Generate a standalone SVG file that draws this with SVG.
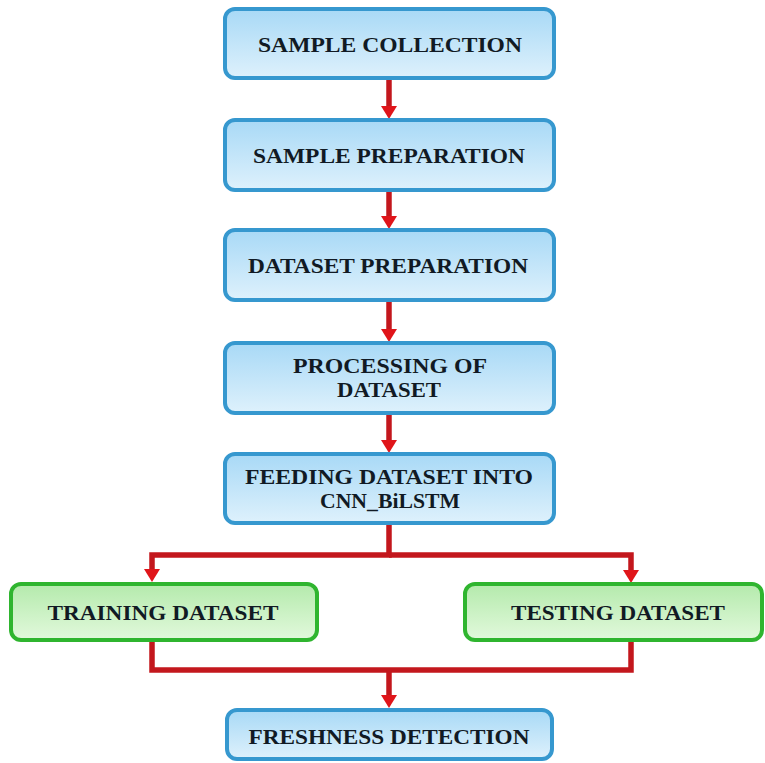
<svg xmlns="http://www.w3.org/2000/svg" width="765" height="763" viewBox="0 0 765 763">
<defs>
<linearGradient id="gb" x1="0" y1="0" x2="0" y2="1">
<stop offset="0" stop-color="#a8d9f6"/>
<stop offset="1" stop-color="#def1fc"/>
</linearGradient>
<linearGradient id="gg" x1="0" y1="0" x2="0" y2="1">
<stop offset="0" stop-color="#b4eaac"/>
<stop offset="1" stop-color="#e2f9dc"/>
</linearGradient>
<marker id="ah" viewBox="0 0 13 16" refX="0" refY="8" markerWidth="13" markerHeight="16" markerUnits="userSpaceOnUse" orient="auto">
<path d="M0,0 L13,8 L0,16 z" fill="#e0151a"/>
</marker>
<style>
.blue{fill:url(#gb);stroke:#3698cf;stroke-width:4}
.green{fill:url(#gg);stroke:#2fb52f;stroke-width:4}
.t{font-family:"Liberation Serif","Times New Roman",serif;font-weight:bold;font-size:20.5px;fill:#111a24;text-anchor:middle}
.c{fill:none;stroke:#c3171d;stroke-width:5.5}
</style>
</defs>
<rect width="765" height="763" fill="#ffffff"/>
<g id="connectors">
<path class="c" d="M389,80 V106" marker-end="url(#ah)"/>
<path class="c" d="M389,192 V216" marker-end="url(#ah)"/>
<path class="c" d="M389,302 V329" marker-end="url(#ah)"/>
<path class="c" d="M389,415 V440" marker-end="url(#ah)"/>
<path class="c" d="M389,525 V555 H152 V569" marker-end="url(#ah)"/>
<path class="c" d="M389,555 H631 V570" marker-end="url(#ah)"/>
<path class="c" d="M152,642 V670 H631 V642"/>
<path class="c" d="M389,670 V695" marker-end="url(#ah)"/>
</g>
<g id="n1"><rect class="blue" x="225" y="9" width="329" height="69" rx="10"/><text class="t" x="390" y="52" textLength="264" lengthAdjust="spacingAndGlyphs">SAMPLE COLLECTION</text></g>
<g id="n2"><rect class="blue" x="225" y="120" width="329" height="70" rx="10"/><text class="t" x="389" y="163" textLength="272" lengthAdjust="spacingAndGlyphs">SAMPLE PREPARATION</text></g>
<g id="n3"><rect class="blue" x="225" y="230" width="329" height="70" rx="10"/><text class="t" x="388" y="273" textLength="280" lengthAdjust="spacingAndGlyphs">DATASET PREPARATION</text></g>
<g id="n4"><rect class="blue" x="225" y="343" width="329" height="70" rx="10"/><text class="t" x="390" y="373" textLength="194" lengthAdjust="spacingAndGlyphs">PROCESSING OF</text><text class="t" x="389" y="397" textLength="104" lengthAdjust="spacingAndGlyphs">DATASET</text></g>
<g id="n5"><rect class="blue" x="225" y="454" width="329" height="69" rx="10"/><text class="t" x="389" y="484" textLength="288" lengthAdjust="spacingAndGlyphs">FEEDING DATASET INTO</text><text class="t" x="390" y="508" textLength="140" lengthAdjust="spacingAndGlyphs">CNN_BiLSTM</text></g>
<g id="n6"><rect class="green" x="11" y="584" width="306" height="56" rx="10"/><text class="t" x="163" y="620" textLength="231" lengthAdjust="spacingAndGlyphs">TRAINING DATASET</text></g>
<g id="n7"><rect class="green" x="465" y="584" width="297" height="56" rx="10"/><text class="t" x="618" y="620" textLength="214" lengthAdjust="spacingAndGlyphs">TESTING DATASET</text></g>
<g id="n8"><rect class="blue" x="227" y="710" width="325" height="49" rx="10"/><text class="t" x="389" y="744" textLength="281" lengthAdjust="spacingAndGlyphs">FRESHNESS DETECTION</text></g>
</svg>
